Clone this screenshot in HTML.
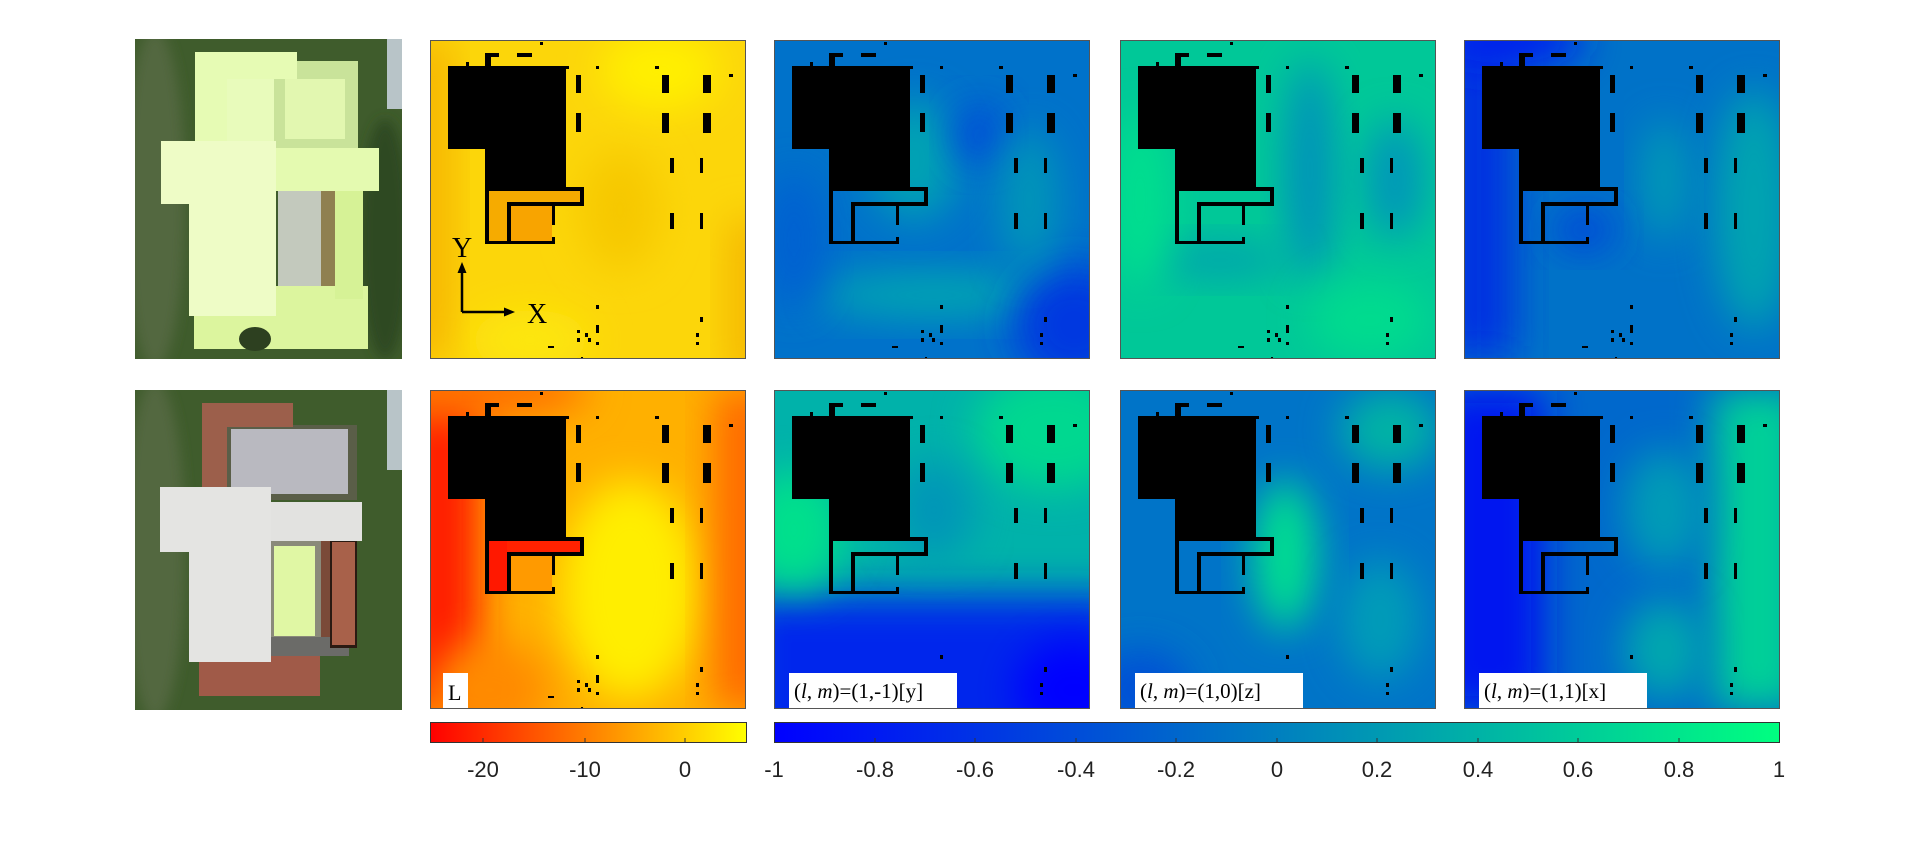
<!DOCTYPE html>
<html><head><meta charset="utf-8"><style>
html,body{margin:0;padding:0;background:#fff;}
svg{display:block}
</style></head><body>
<svg width="1920" height="867" viewBox="0 0 1920 867" xmlns="http://www.w3.org/2000/svg">
<defs>
<filter id="b" x="-50%" y="-50%" width="200%" height="200%"><feGaussianBlur stdDeviation="20"/></filter>
<filter id="bs" x="-20%" y="-20%" width="140%" height="140%"><feGaussianBlur stdDeviation="6"/></filter>
<clipPath id="pc"><rect x="0" y="0" width="316" height="319"/></clipPath>
<clipPath id="phc"><rect x="0" y="0" width="267" height="320"/></clipPath>
<g id="obs" fill="#000">
<rect x="18" y="26" width="118" height="83"/><rect x="55" y="108" width="81" height="40"/>
<rect x="55" y="13" width="6" height="16"/><rect x="55" y="13" width="14" height="4"/>
<rect x="36" y="22" width="3" height="4"/><rect x="87" y="13" width="15" height="4"/>
<rect x="110" y="2" width="3" height="3"/>
<rect x="136" y="26" width="3" height="3"/><rect x="166" y="26" width="3" height="3"/><rect x="225" y="26" width="4" height="3"/><rect x="299" y="34" width="4" height="3"/>
<rect x="146" y="35" width="5" height="18"/><rect x="146" y="73" width="5" height="19"/>
<rect x="232" y="35" width="7" height="18"/><rect x="232" y="73" width="7" height="20"/>
<rect x="273" y="35" width="8" height="18"/><rect x="273" y="73" width="8" height="20"/>
<rect x="240" y="118" width="4" height="15"/><rect x="270" y="118" width="3" height="15"/>
<rect x="240" y="173" width="4" height="16"/><rect x="270" y="173" width="3" height="16"/>
<rect x="166" y="265" width="3" height="4"/><rect x="147" y="290" width="3" height="3"/><rect x="147" y="298" width="3" height="4"/>
<rect x="155" y="293" width="3" height="4"/><rect x="158" y="298" width="3" height="4"/><rect x="166" y="285" width="3" height="8"/>
<rect x="166" y="302" width="3" height="3"/><rect x="118" y="306" width="6" height="2"/><rect x="151" y="317" width="2" height="2"/>
<rect x="270" y="277" width="3" height="5"/><rect x="266" y="293" width="3" height="4"/><rect x="266" y="302" width="3" height="3"/>
<rect x="55" y="147" width="99" height="4"/><rect x="150" y="147" width="4" height="18"/>
<rect x="77" y="162" width="77" height="4"/><rect x="122" y="162" width="3" height="23"/><rect x="122" y="197" width="3" height="7"/>
<rect x="55" y="147" width="4" height="57"/><rect x="77" y="162" width="4" height="42"/><rect x="55" y="201" width="70" height="3"/>
</g>
<linearGradient id="cbA" x1="0" x2="1" y1="0" y2="0"><stop offset="0" stop-color="#ff0000"/><stop offset="1" stop-color="#ffff00"/></linearGradient>
<linearGradient id="cbW" x1="0" x2="1" y1="0" y2="0"><stop offset="0" stop-color="#0000ff"/><stop offset="1" stop-color="#00ff80"/></linearGradient>
</defs>

<!-- Photo 1 -->
<g transform="translate(135,39)" clip-path="url(#phc)">
<rect width="267" height="320" fill="#3f5c2c"/>
<ellipse cx="20" cy="160" rx="30" ry="170" fill="#53673f" filter="url(#bs)"/>
<ellipse cx="250" cy="200" rx="25" ry="120" fill="#2f4a22" filter="url(#bs)"/>
<rect x="252" y="0" width="15" height="70" fill="#b8c4c8"/>
<rect x="139" y="22" width="84" height="96" fill="#c9e39a"/>
<rect x="150" y="40" width="60" height="60" fill="#e2f7b0"/>
<rect x="92" y="40" width="47" height="65" fill="#e8fbbb"/>
<rect x="60" y="13" width="102" height="27" fill="#e6fbb4"/>
<rect x="60" y="13" width="32" height="92" fill="#e6fbb4"/>
<rect x="59" y="247" width="174" height="63" fill="#dcf59e"/>
<rect x="26" y="102" width="115" height="63" fill="#eefcc6"/>
<rect x="54" y="160" width="87" height="117" fill="#eefcc6"/>
<rect x="141" y="109" width="103" height="43" fill="#e4fab0"/>
<rect x="143" y="152" width="43" height="95" fill="#c3c9bd"/>
<rect x="186" y="152" width="14" height="95" fill="#8f8050"/>
<rect x="200" y="152" width="28" height="108" fill="#d6f296"/>
<ellipse cx="120" cy="300" rx="16" ry="12" fill="#2d4020"/>
</g>
<!-- Photo 2 -->
<g transform="translate(135,390)" clip-path="url(#phc)">
<rect width="267" height="320" fill="#3f5c2c"/>
<ellipse cx="20" cy="160" rx="30" ry="170" fill="#53673f" filter="url(#bs)"/>
<rect x="252" y="0" width="15" height="80" fill="#b8c4c8"/>
<rect x="92" y="35" width="130" height="75" fill="#5a5e48"/>
<rect x="96" y="39" width="117" height="65" fill="#b9b9c0"/>
<rect x="67" y="13" width="91" height="24" fill="#9c5f4b"/>
<rect x="67" y="13" width="25" height="84" fill="#9c5f4b"/>
<rect x="64" y="262" width="121" height="44" fill="#a05a48"/>
<rect x="136" y="246" width="78" height="20" fill="#6b6b68"/>
<rect x="25" y="97" width="111" height="65" fill="#e4e4e2"/>
<rect x="54" y="160" width="82" height="112" fill="#e4e4e2"/>
<rect x="136" y="112" width="91" height="39" fill="#e2e2e0"/>
<rect x="136" y="151" width="50" height="96" fill="#8a8a7a"/>
<rect x="139" y="156" width="41" height="90" fill="#e0f7a4"/>
<rect x="186" y="151" width="9" height="96" fill="#7a4a38"/>
<rect x="195" y="151" width="27" height="107" fill="#2a1a12"/>
<rect x="197" y="152" width="23" height="103" fill="#a8614a"/>
</g>

<!-- Row1 P1 -->
<g transform="translate(430,40)">
<g clip-path="url(#pc)">
<rect width="316" height="319" fill="#fcd60a"/>
<rect x="-20" y="0" width="40" height="319" fill="#f5b000" filter="url(#b)"/>
<rect x="300" y="180" width="40" height="160" fill="#f4b400" filter="url(#b)"/>
<ellipse cx="190" cy="170" rx="40" ry="60" fill="#f6c800" filter="url(#b)"/>
<ellipse cx="230" cy="30" rx="60" ry="40" fill="#fff000" filter="url(#b)"/>
<ellipse cx="100" cy="300" rx="60" ry="30" fill="#fde810" filter="url(#b)"/>
<rect x="59" y="151" width="91" height="12" fill="#f6ab00"/>
<rect x="59" y="151" width="18" height="50" fill="#f6ab00"/>
<rect x="81" y="166" width="41" height="35" fill="#f8a400"/>
<use href="#obs"/>
<text x="22" y="217" font-family="Liberation Serif, serif" font-size="28" fill="#000">Y</text>
<line x1="32" y1="272" x2="32" y2="230" stroke="#000" stroke-width="2.5"/>
<polygon points="32,222 27.5,233 36.5,233" fill="#000"/>
<line x1="32" y1="272" x2="76" y2="272" stroke="#000" stroke-width="2.5"/>
<polygon points="85,272 74,267.5 74,276.5" fill="#000"/>
<text x="97" y="283" font-family="Liberation Serif, serif" font-size="28" fill="#000">X</text>
</g>
<rect x="0.5" y="0.5" width="315" height="318" fill="none" stroke="#555" stroke-width="1"/>
</g>

<!-- Row1 P2 -->
<g transform="translate(774,40)">
<g clip-path="url(#pc)">
<rect width="316" height="319" fill="#0072ca"/>
<ellipse cx="160" cy="255" rx="120" ry="22" fill="#00a8b0" filter="url(#b)"/>
<ellipse cx="140" cy="120" rx="45" ry="60" fill="#00a2b4" filter="url(#b)"/>
<ellipse cx="300" cy="285" rx="60" ry="60" fill="#0038e0" filter="url(#b)"/>
<ellipse cx="205" cy="95" rx="25" ry="30" fill="#0048da" filter="url(#b)"/>
<ellipse cx="255" cy="160" rx="30" ry="70" fill="#0096b8" filter="url(#b)"/>
<ellipse cx="20" cy="200" rx="30" ry="70" fill="#0060d2" filter="url(#b)"/>
<use href="#obs"/>
</g>
<rect x="0.5" y="0.5" width="315" height="318" fill="none" stroke="#555"/>
</g>

<!-- Row1 P3 -->
<g transform="translate(1120,40)">
<g clip-path="url(#pc)">
<rect width="316" height="319" fill="#00c898"/>
<ellipse cx="190" cy="130" rx="25" ry="110" fill="#0090bc" filter="url(#b)"/>
<ellipse cx="275" cy="140" rx="30" ry="60" fill="#0096ba" filter="url(#b)"/>
<ellipse cx="100" cy="220" rx="70" ry="18" fill="#00a0b0" filter="url(#b)"/>
<ellipse cx="20" cy="160" rx="30" ry="90" fill="#00e08e" filter="url(#b)"/>
<ellipse cx="250" cy="280" rx="60" ry="40" fill="#00dc8e" filter="url(#b)"/>
<use href="#obs"/>
</g>
<rect x="0.5" y="0.5" width="315" height="318" fill="none" stroke="#555"/>
</g>

<!-- Row1 P4 -->
<g transform="translate(1464,40)">
<g clip-path="url(#pc)">
<rect width="316" height="319" fill="#0072c8"/>
<rect x="-20" y="0" width="70" height="319" fill="#0030e2" filter="url(#b)"/>
<ellipse cx="40" cy="0" rx="80" ry="30" fill="#0020ee" filter="url(#b)"/>
<ellipse cx="290" cy="170" rx="40" ry="120" fill="#00a4b0" filter="url(#b)"/>
<ellipse cx="200" cy="140" rx="20" ry="60" fill="#00a0b2" filter="url(#b)"/>
<ellipse cx="120" cy="190" rx="30" ry="20" fill="#0040dc" filter="url(#b)"/>
<use href="#obs"/>
</g>
<rect x="0.5" y="0.5" width="315" height="318" fill="none" stroke="#555"/>
</g>

<!-- Row2 P1 -->
<g transform="translate(430,390)">
<g clip-path="url(#pc)">
<rect width="316" height="319" fill="#ffb000"/>
<ellipse cx="200" cy="200" rx="70" ry="110" fill="#ffee00" filter="url(#b)"/>
<rect x="-30" y="0" width="80" height="319" fill="#ff1a00" filter="url(#b)"/>
<ellipse cx="40" cy="0" rx="120" ry="30" fill="#ff7000" filter="url(#b)"/>
<rect x="285" y="0" width="60" height="319" fill="#ff6800" filter="url(#b)"/>
<ellipse cx="60" cy="300" rx="60" ry="50" fill="#ff8a00" filter="url(#b)"/>
<rect x="59" y="151" width="91" height="12" fill="#ff2200"/>
<rect x="59" y="151" width="18" height="50" fill="#ff1800"/>
<rect x="81" y="166" width="41" height="35" fill="#ff9a00"/>
<use href="#obs"/>
<rect x="13" y="283" width="25" height="36" fill="#fff"/>
<text x="18" y="310" font-family="Liberation Serif, serif" font-size="22" fill="#000">L</text>
</g>
<rect x="0.5" y="0.5" width="315" height="318" fill="none" stroke="#555"/>
</g>

<!-- Row2 P2 -->
<g transform="translate(774,390)">
<g clip-path="url(#pc)">
<rect width="316" height="319" fill="#00b2aa"/>
<rect x="-30" y="205" width="380" height="160" fill="#0028ec" filter="url(#b)"/>
<ellipse cx="280" cy="40" rx="80" ry="60" fill="#00d890" filter="url(#b)"/>
<ellipse cx="20" cy="140" rx="50" ry="60" fill="#00e08c" filter="url(#b)"/>
<ellipse cx="160" cy="120" rx="40" ry="50" fill="#0096b8" filter="url(#b)"/>
<ellipse cx="300" cy="300" rx="60" ry="50" fill="#0000ff" filter="url(#b)"/>
<use href="#obs"/>
<rect x="15" y="283" width="168" height="36" fill="#fff"/>
<text x="20" y="308" font-family="Liberation Serif, serif" font-size="21" fill="#000">(<tspan font-style="italic">l</tspan>, <tspan font-style="italic">m</tspan>)=(1,-1)[y]</text>
</g>
<rect x="0.5" y="0.5" width="315" height="318" fill="none" stroke="#555"/>
</g>

<!-- Row2 P3 -->
<g transform="translate(1120,390)">
<g clip-path="url(#pc)">
<rect width="316" height="319" fill="#0074c8"/>
<ellipse cx="165" cy="165" rx="32" ry="75" fill="#00e090" filter="url(#b)"/>
<ellipse cx="270" cy="40" rx="50" ry="40" fill="#00b4a4" filter="url(#b)"/>
<ellipse cx="260" cy="230" rx="40" ry="60" fill="#009cb8" filter="url(#b)"/>
<ellipse cx="20" cy="300" rx="50" ry="40" fill="#0050d6" filter="url(#b)"/>
<use href="#obs"/>
<rect x="15" y="283" width="168" height="36" fill="#fff"/>
<text x="20" y="308" font-family="Liberation Serif, serif" font-size="21" fill="#000">(<tspan font-style="italic">l</tspan>, <tspan font-style="italic">m</tspan>)=(1,0)[z]</text>
</g>
<rect x="0.5" y="0.5" width="315" height="318" fill="none" stroke="#555"/>
</g>

<!-- Row2 P4 -->
<g transform="translate(1464,390)">
<g clip-path="url(#pc)">
<rect width="316" height="319" fill="#0068cc"/>
<rect x="-30" y="0" width="110" height="319" fill="#0018f0" filter="url(#b)"/>
<rect x="250" y="0" width="90" height="319" fill="#00d098" filter="url(#b)"/>
<ellipse cx="200" cy="120" rx="40" ry="60" fill="#009cb6" filter="url(#b)"/>
<ellipse cx="200" cy="260" rx="40" ry="50" fill="#00a8ae" filter="url(#b)"/>
<use href="#obs"/>
<rect x="15" y="283" width="168" height="36" fill="#fff"/>
<text x="20" y="308" font-family="Liberation Serif, serif" font-size="21" fill="#000">(<tspan font-style="italic">l</tspan>, <tspan font-style="italic">m</tspan>)=(1,1)[x]</text>
</g>
<rect x="0.5" y="0.5" width="315" height="318" fill="none" stroke="#555"/>
</g>

<!-- Colorbars -->
<rect x="430.5" y="722.5" width="316" height="20" fill="url(#cbA)" stroke="#333"/>
<g stroke="#333" stroke-width="1">
<line x1="483" y1="742" x2="483" y2="738"/><line x1="585" y1="742" x2="585" y2="738"/><line x1="685" y1="742" x2="685" y2="738"/>
</g>
<rect x="774.5" y="722.5" width="1005" height="20" fill="url(#cbW)" stroke="#333"/>
<g stroke="#333" stroke-width="1">
<line x1="875" y1="742" x2="875" y2="738"/><line x1="975" y1="742" x2="975" y2="738"/><line x1="1076" y1="742" x2="1076" y2="738"/>
<line x1="1176" y1="742" x2="1176" y2="738"/><line x1="1277" y1="742" x2="1277" y2="738"/><line x1="1377" y1="742" x2="1377" y2="738"/>
<line x1="1478" y1="742" x2="1478" y2="738"/><line x1="1578" y1="742" x2="1578" y2="738"/><line x1="1679" y1="742" x2="1679" y2="738"/>
</g>
<g font-family="Liberation Sans, Arial, sans-serif" font-size="22" fill="#222" text-anchor="middle">
<text x="483" y="777">-20</text><text x="585" y="777">-10</text><text x="685" y="777">0</text>
<text x="774" y="777">-1</text><text x="875" y="777">-0.8</text><text x="975" y="777">-0.6</text><text x="1076" y="777">-0.4</text>
<text x="1176" y="777">-0.2</text><text x="1277" y="777">0</text><text x="1377" y="777">0.2</text><text x="1478" y="777">0.4</text>
<text x="1578" y="777">0.6</text><text x="1679" y="777">0.8</text><text x="1779" y="777">1</text>
</g>
</svg>
</body></html>
